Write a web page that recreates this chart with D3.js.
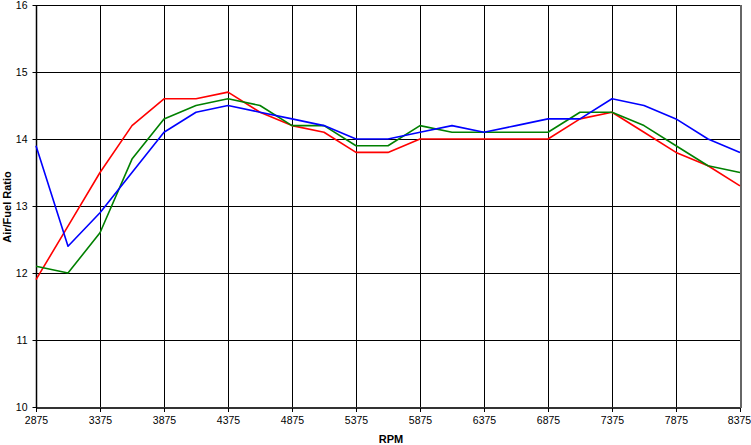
<!DOCTYPE html>
<html><head><meta charset="utf-8">
<script src="https://cdn.jsdelivr.net/npm/d3@7"></script>
<style>body{margin:0;background:#fff}svg{display:block}text{font-family:"Liberation Sans",Arial,sans-serif}</style>
</head><body><svg id="c" width="751" height="445"></svg>
<script>
const rpm = [2875,3125,3375,3625,3875,4125,4375,4625,4875,5125,5375,5625,5875,6125,6375,6625,6875,7125,7375,7625,7875,8125,8375];
const red   = [11.9,12.7,13.5,14.2,14.6,14.6,14.7,14.4,14.2,14.1,13.8,13.8,14.0,14.0,14.0,14.0,14.0,14.3,14.4,14.1,13.8,13.6,13.3];
const green = [12.1,12.0,12.6,13.7,14.3,14.5,14.6,14.5,14.2,14.2,13.9,13.9,14.2,14.1,14.1,14.1,14.1,14.4,14.4,14.2,13.9,13.6,13.5];
const blue  = [13.9,12.4,12.9,13.5,14.1,14.4,14.5,14.4,14.3,14.2,14.0,14.0,14.1,14.2,14.1,14.2,14.3,14.3,14.6,14.5,14.3,14.0,13.8];
const xTicks = [2875,3375,3875,4375,4875,5375,5875,6375,6875,7375,7875,8375];
const yTicks = [10,11,12,13,14,15,16];
const series = [{v:red,c:"#ff0000"},{v:green,c:"#008000"},{v:blue,c:"#0000ff"}];

const L=36,R=740,T=5,B=407;
const svg=d3.select("#c");
const x=d3.scaleLinear().domain([2875,8375]).range([L,R]);
const y=d3.scaleLinear().domain([10,16]).range([B,T]);

// grid
svg.append("g").selectAll("line").data(xTicks).join("line")
  .attr("x1",d=>Math.round(x(d))+0.5).attr("x2",d=>Math.round(x(d))+0.5)
  .attr("y1",T).attr("y2",B).attr("stroke","#000").attr("stroke-width",1);
svg.append("g").selectAll("line").data(yTicks).join("line")
  .attr("y1",d=>Math.round(y(d))+0.5).attr("y2",d=>Math.round(y(d))+0.5)
  .attr("x1",L).attr("x2",R).attr("stroke","#000").attr("stroke-width",1);
// border
svg.append("rect").attr("x",L+0.5).attr("y",T+0.5).attr("width",R-L).attr("height",B-T)
  .attr("fill","none").attr("stroke","#000").attr("stroke-width",1);
svg.append("line").attr("x1",L).attr("x2",R+1).attr("y1",B+1).attr("y2",B+1).attr("stroke","#333").attr("stroke-width",2);
svg.append("line").attr("x1",R+1).attr("x2",R+1).attr("y1",T).attr("y2",B+1).attr("stroke","#666").attr("stroke-width",2);
svg.append("line").attr("x1",L+0.5).attr("x2",L+0.5).attr("y1",T).attr("y2",B+1).attr("stroke","#000").attr("stroke-width",1.5);

// axes
const xa=svg.append("g").attr("transform",`translate(0,${B+1})`)
  .call(d3.axisBottom(x).tickValues(xTicks).tickSize(4).tickPadding(5).tickFormat(d3.format("d")));
const ya=svg.append("g").attr("transform",`translate(${L+0.5},0)`)
  .call(d3.axisLeft(y).tickValues(yTicks).tickSize(4).tickPadding(5).tickFormat(d3.format("d")));
[xa,ya].forEach(g=>{g.select(".domain").remove();
  g.selectAll("text").attr("font-size",10.5).attr("fill","#000").style("font-family","'Liberation Sans',Arial,sans-serif");
  g.selectAll("line").attr("stroke","#000");});
xa.selectAll("text").filter(d=>d===8375).attr("dx",-1);

// lines
const line=d3.line().x((d,i)=>x(rpm[i])).y(d=>y(d));
series.forEach(s=>svg.append("path").datum(s.v).attr("d",line)
  .attr("fill","none").attr("stroke",s.c).attr("stroke-width",1.6).attr("stroke-linejoin","round"));

// titles
svg.append("text").attr("x",391).attr("y",443).attr("text-anchor","middle")
  .attr("font-size",11).attr("font-weight","bold").text("RPM");
svg.append("text").attr("transform","translate(11,207) rotate(-90)").attr("text-anchor","middle")
  .attr("font-size",11).attr("font-weight","bold").text("Air/Fuel Ratio");
</script></body></html>
